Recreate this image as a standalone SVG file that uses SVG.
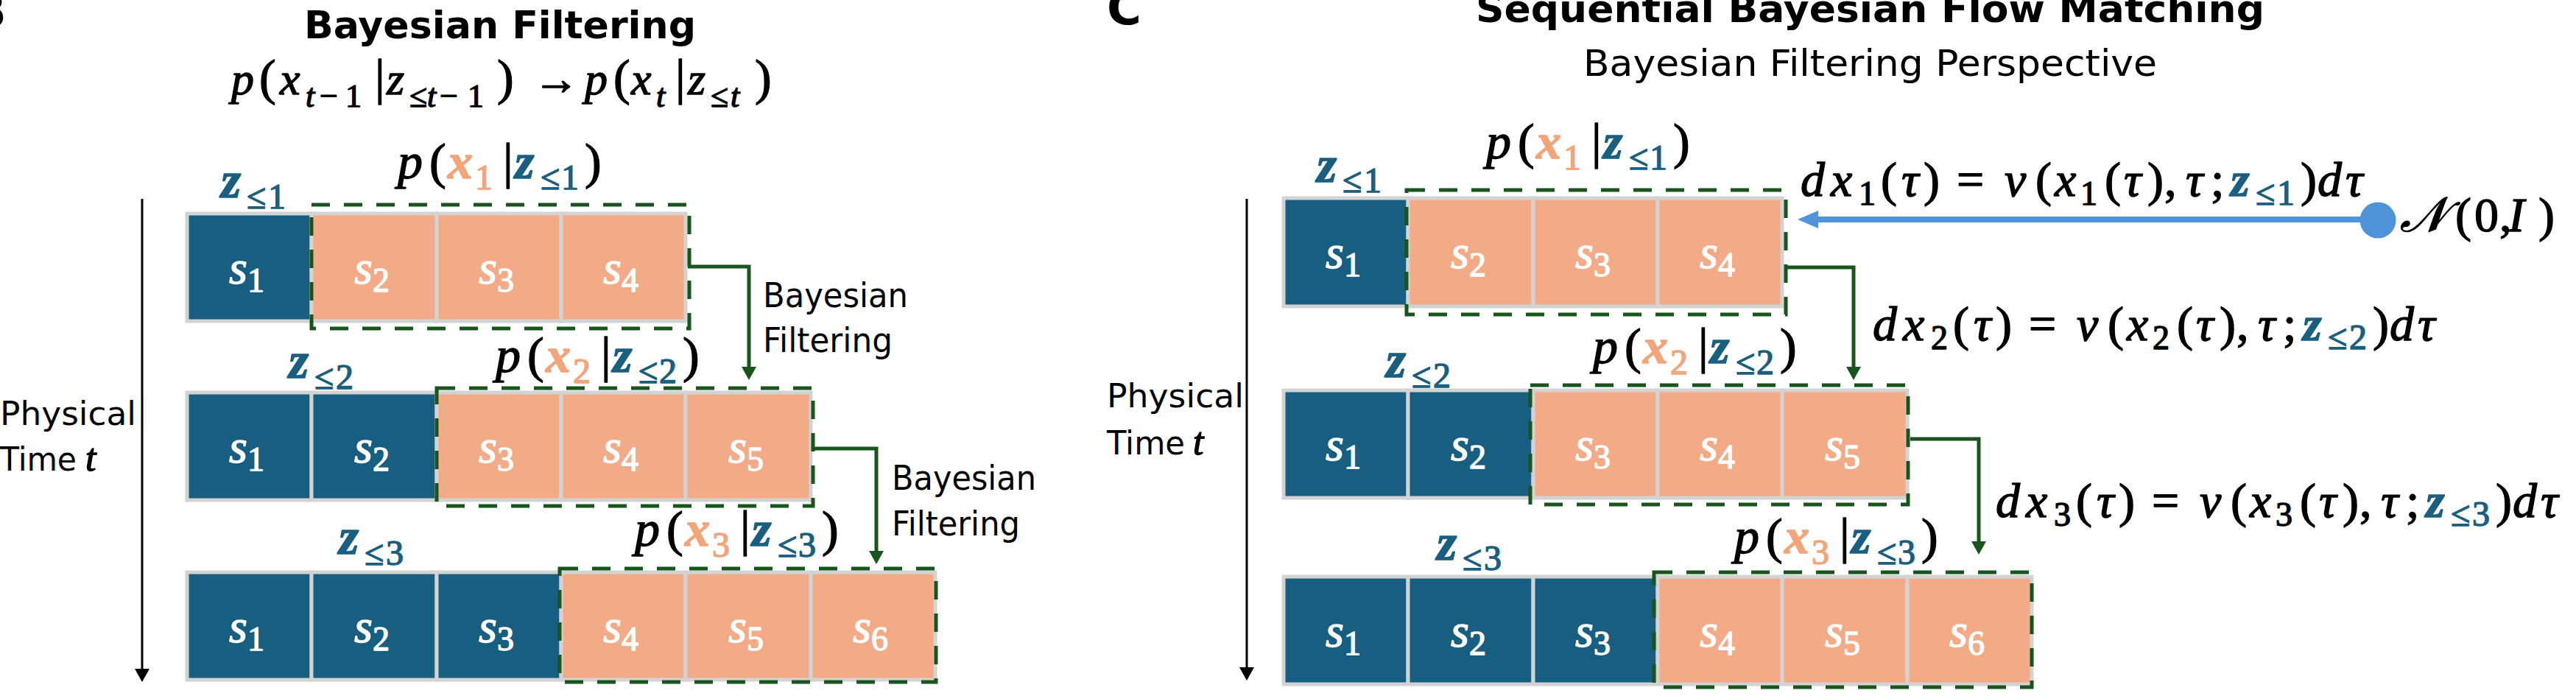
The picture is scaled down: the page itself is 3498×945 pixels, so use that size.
<svg xmlns="http://www.w3.org/2000/svg" width="3498" height="945" viewBox="0 0 3498 945">
<style>
.cb{fill:#185e80;stroke:#d3d3d3;stroke-width:5}
.co{fill:#f2ab86;stroke:#d3d3d3;stroke-width:5}
.win{fill:none;stroke:#18541c;stroke-width:5;stroke-dasharray:25 19}
.conn{fill:none;stroke:#18541c;stroke-width:5}
.m{font-family:"Liberation Serif","Times New Roman","DejaVu Serif",serif;fill:#000;stroke:#000;stroke-width:1.4;stroke-linejoin:round}
.i{font-style:italic}
.cl{fill:#fff;stroke:#fff;font-size:64px}
.sans{font-family:"DejaVu Sans","Liberation Sans",sans-serif;fill:#000}
.xo{fill:#f2a47b;stroke:#f2a47b;font-weight:bold;font-style:italic}
.xs{fill:#f2a47b;stroke:#f2a47b;font-size:48px}
.zb{fill:#1a5f80;stroke:#1a5f80;font-weight:bold;font-style:italic}
.zs{fill:#1a5f80;stroke:#1a5f80;font-size:48px}
.ss{font-size:46px}
</style>
<defs>
<marker id="ahg" markerUnits="userSpaceOnUse" markerWidth="18" markerHeight="20" viewBox="0 0 18 20" refX="0" refY="10" orient="auto"><path d="M0 0L18 10L0 20Z" fill="#18541c"/></marker>
<marker id="ahb" markerUnits="userSpaceOnUse" markerWidth="28" markerHeight="24" viewBox="0 0 28 24" refX="0" refY="12" orient="auto"><path d="M0 0L28 12L0 24Z" fill="#4f93d8"/></marker>
<marker id="ahk" markerUnits="userSpaceOnUse" markerWidth="18" markerHeight="20" viewBox="0 0 18 20" refX="0" refY="10" orient="auto"><path d="M0 0L18 10L0 20Z" fill="#000"/></marker>
</defs>

<!-- Titles -->
<g id="titles">
<text class="sans" x="-40" y="37" font-size="64" font-weight="bold">B</text>
<text class="sans" x="413" y="52" font-size="52" font-weight="bold" textLength="532" lengthAdjust="spacingAndGlyphs">Bayesian Filtering</text>
<text class="sans" x="1503" y="33" font-size="64" font-weight="bold">C</text>
<text class="sans" x="2004" y="30" font-size="52" font-weight="bold" textLength="1071" lengthAdjust="spacingAndGlyphs">Sequential Bayesian Flow Matching</text>
<text class="sans" x="2150" y="103" font-size="50" textLength="779" lengthAdjust="spacingAndGlyphs">Bayesian Filtering Perspective</text>
<text class="m" font-size="62">
<tspan class="i" x="314" y="128">p</tspan><tspan x="352" y="128" font-size="68">(</tspan><tspan class="i" x="380" y="128">x</tspan><tspan class="i" x="415" y="145" font-size="44">t</tspan><tspan x="434" y="145" font-size="44">−</tspan><tspan x="469" y="145" font-size="44">1</tspan><tspan x="509" y="128" font-size="68">|</tspan><tspan class="i" x="525" y="128">z</tspan><tspan x="556" y="145" font-size="44">≤</tspan><tspan class="i" x="580" y="145" font-size="44">t</tspan><tspan x="597" y="145" font-size="44">−</tspan><tspan x="635" y="145" font-size="44">1</tspan><tspan x="675" y="128" font-size="68">)</tspan><tspan x="724" y="128">→</tspan><tspan class="i" x="794" y="128">p</tspan><tspan x="833" y="128" font-size="68">(</tspan><tspan class="i" x="857" y="128">x</tspan><tspan class="i" x="891" y="145" font-size="44">t</tspan><tspan x="917" y="128" font-size="68">|</tspan><tspan class="i" x="934" y="128">z</tspan><tspan x="965" y="145" font-size="44">≤</tspan><tspan class="i" x="992" y="145" font-size="44">t</tspan><tspan x="1025" y="128" font-size="68">)</tspan>
</text>
</g>

<!-- LEFT PANEL cells -->
<g id="L-row1">
<g id="L1-s1"><rect class="cb" x="254" y="290" width="169" height="146"/><text class="m cl" x="335" y="385" text-anchor="middle"><tspan class="i">s</tspan><tspan class="ss" dy="11">1</tspan></text></g>
<g id="L1-s2"><rect class="co" x="423" y="290" width="170" height="146"/><text class="m cl" x="505" y="385" text-anchor="middle"><tspan class="i">s</tspan><tspan class="ss" dy="11">2</tspan></text></g>
<g id="L1-s3"><rect class="co" x="593" y="290" width="169" height="146"/><text class="m cl" x="674" y="385" text-anchor="middle"><tspan class="i">s</tspan><tspan class="ss" dy="11">3</tspan></text></g>
<g id="L1-s4"><rect class="co" x="762" y="290" width="169" height="146"/><text class="m cl" x="843" y="385" text-anchor="middle"><tspan class="i">s</tspan><tspan class="ss" dy="11">4</tspan></text></g>
</g>
<g id="L-row2">
<g id="L2-s1"><rect class="cb" x="254" y="533" width="169" height="146"/><text class="m cl" x="335" y="628" text-anchor="middle"><tspan class="i">s</tspan><tspan class="ss" dy="11">1</tspan></text></g>
<g id="L2-s2"><rect class="cb" x="423" y="533" width="170" height="146"/><text class="m cl" x="505" y="628" text-anchor="middle"><tspan class="i">s</tspan><tspan class="ss" dy="11">2</tspan></text></g>
<g id="L2-s3"><rect class="co" x="593" y="533" width="169" height="146"/><text class="m cl" x="674" y="628" text-anchor="middle"><tspan class="i">s</tspan><tspan class="ss" dy="11">3</tspan></text></g>
<g id="L2-s4"><rect class="co" x="762" y="533" width="169" height="146"/><text class="m cl" x="843" y="628" text-anchor="middle"><tspan class="i">s</tspan><tspan class="ss" dy="11">4</tspan></text></g>
<g id="L2-s5"><rect class="co" x="931" y="533" width="170" height="146"/><text class="m cl" x="1013" y="628" text-anchor="middle"><tspan class="i">s</tspan><tspan class="ss" dy="11">5</tspan></text></g>
</g>
<g id="L-row3">
<g id="L3-s1"><rect class="cb" x="254" y="777" width="169" height="146"/><text class="m cl" x="335" y="872" text-anchor="middle"><tspan class="i">s</tspan><tspan class="ss" dy="11">1</tspan></text></g>
<g id="L3-s2"><rect class="cb" x="423" y="777" width="170" height="146"/><text class="m cl" x="505" y="872" text-anchor="middle"><tspan class="i">s</tspan><tspan class="ss" dy="11">2</tspan></text></g>
<g id="L3-s3"><rect class="cb" x="593" y="777" width="169" height="146"/><text class="m cl" x="674" y="872" text-anchor="middle"><tspan class="i">s</tspan><tspan class="ss" dy="11">3</tspan></text></g>
<g id="L3-s4"><rect class="co" x="762" y="777" width="169" height="146"/><text class="m cl" x="843" y="872" text-anchor="middle"><tspan class="i">s</tspan><tspan class="ss" dy="11">4</tspan></text></g>
<g id="L3-s5"><rect class="co" x="931" y="777" width="170" height="146"/><text class="m cl" x="1013" y="872" text-anchor="middle"><tspan class="i">s</tspan><tspan class="ss" dy="11">5</tspan></text></g>
<g id="L3-s6"><rect class="co" x="1101" y="777" width="169" height="146"/><text class="m cl" x="1182" y="872" text-anchor="middle"><tspan class="i">s</tspan><tspan class="ss" dy="11">6</tspan></text></g>
</g>

<!-- RIGHT PANEL cells -->
<g id="R-row1">
<g id="R1-s1"><rect class="cb" x="1743" y="269" width="169" height="147"/><text class="m cl" x="1824" y="364" text-anchor="middle"><tspan class="i">s</tspan><tspan class="ss" dy="11">1</tspan></text></g>
<g id="R1-s2"><rect class="co" x="1912" y="269" width="170" height="147"/><text class="m cl" x="1994" y="364" text-anchor="middle"><tspan class="i">s</tspan><tspan class="ss" dy="11">2</tspan></text></g>
<g id="R1-s3"><rect class="co" x="2082" y="269" width="169" height="147"/><text class="m cl" x="2163" y="364" text-anchor="middle"><tspan class="i">s</tspan><tspan class="ss" dy="11">3</tspan></text></g>
<g id="R1-s4"><rect class="co" x="2251" y="269" width="169" height="147"/><text class="m cl" x="2332" y="364" text-anchor="middle"><tspan class="i">s</tspan><tspan class="ss" dy="11">4</tspan></text></g>
</g>
<g id="R-row2">
<g id="R2-s1"><rect class="cb" x="1743" y="530" width="169" height="146"/><text class="m cl" x="1824" y="625" text-anchor="middle"><tspan class="i">s</tspan><tspan class="ss" dy="11">1</tspan></text></g>
<g id="R2-s2"><rect class="cb" x="1912" y="530" width="170" height="146"/><text class="m cl" x="1994" y="625" text-anchor="middle"><tspan class="i">s</tspan><tspan class="ss" dy="11">2</tspan></text></g>
<g id="R2-s3"><rect class="co" x="2082" y="530" width="169" height="146"/><text class="m cl" x="2163" y="625" text-anchor="middle"><tspan class="i">s</tspan><tspan class="ss" dy="11">3</tspan></text></g>
<g id="R2-s4"><rect class="co" x="2251" y="530" width="169" height="146"/><text class="m cl" x="2332" y="625" text-anchor="middle"><tspan class="i">s</tspan><tspan class="ss" dy="11">4</tspan></text></g>
<g id="R2-s5"><rect class="co" x="2420" y="530" width="170" height="146"/><text class="m cl" x="2502" y="625" text-anchor="middle"><tspan class="i">s</tspan><tspan class="ss" dy="11">5</tspan></text></g>
</g>
<g id="R-row3">
<g id="R3-s1"><rect class="cb" x="1743" y="783" width="169" height="146"/><text class="m cl" x="1824" y="878" text-anchor="middle"><tspan class="i">s</tspan><tspan class="ss" dy="11">1</tspan></text></g>
<g id="R3-s2"><rect class="cb" x="1912" y="783" width="170" height="146"/><text class="m cl" x="1994" y="878" text-anchor="middle"><tspan class="i">s</tspan><tspan class="ss" dy="11">2</tspan></text></g>
<g id="R3-s3"><rect class="cb" x="2082" y="783" width="169" height="146"/><text class="m cl" x="2163" y="878" text-anchor="middle"><tspan class="i">s</tspan><tspan class="ss" dy="11">3</tspan></text></g>
<g id="R3-s4"><rect class="co" x="2251" y="783" width="169" height="146"/><text class="m cl" x="2332" y="878" text-anchor="middle"><tspan class="i">s</tspan><tspan class="ss" dy="11">4</tspan></text></g>
<g id="R3-s5"><rect class="co" x="2420" y="783" width="170" height="146"/><text class="m cl" x="2502" y="878" text-anchor="middle"><tspan class="i">s</tspan><tspan class="ss" dy="11">5</tspan></text></g>
<g id="R3-s6"><rect class="co" x="2590" y="783" width="169" height="146"/><text class="m cl" x="2671" y="878" text-anchor="middle"><tspan class="i">s</tspan><tspan class="ss" dy="11">6</tspan></text></g>
</g>

<!-- Dashed windows -->
<g id="windows">
<rect id="L-win1" class="win" x="423" y="278" width="513" height="168"/>
<rect id="L-win2" class="win" x="593" y="527" width="511" height="160"/>
<rect id="L-win3" class="win" x="760" y="772" width="511" height="154"/>
<rect id="R-win1" class="win" x="1910" y="258" width="515" height="169"/>
<rect id="R-win2" class="win" x="2078" y="523" width="513" height="162"/>
<rect id="R-win3" class="win" x="2246" y="777" width="513" height="156"/>
</g>

<!-- Connectors -->
<g id="connectors">
<path class="conn" d="M934 362H1017V498" marker-end="url(#ahg)"/>
<path class="conn" d="M1102 609H1190V748" marker-end="url(#ahg)"/>
<path class="conn" d="M2423 363H2517V498" marker-end="url(#ahg)"/>
<path class="conn" d="M2594 596H2687V735" marker-end="url(#ahg)"/>
<path d="M3229 298H2469" fill="none" stroke="#4f93d8" stroke-width="8" marker-end="url(#ahb)"/>
<circle cx="3229" cy="299" r="24.5" fill="#4f93d8"/>
<path d="M193 270V908" fill="none" stroke="#000" stroke-width="3" marker-end="url(#ahk)"/>
<path d="M1693 270V906" fill="none" stroke="#000" stroke-width="3" marker-end="url(#ahk)"/>
</g>

<!-- Axis labels -->
<g id="axis-labels">
<text class="sans" x="0" y="577" font-size="44" textLength="185" lengthAdjust="spacingAndGlyphs">Physical</text>
<text class="sans" x="0" y="639" font-size="44" textLength="104" lengthAdjust="spacingAndGlyphs">Time</text>
<text class="m i" x="116" y="639" font-size="52" stroke-width="0.8">t</text>
<text class="sans" x="1503" y="553" font-size="44" textLength="186" lengthAdjust="spacingAndGlyphs">Physical</text>
<text class="sans" x="1503" y="617" font-size="44" textLength="106" lengthAdjust="spacingAndGlyphs">Time</text>
<text class="m i" x="1620" y="617" font-size="52" stroke-width="0.8">t</text>
</g>

<!-- Connector labels -->
<g id="bf-labels">
<text class="sans" x="1036" y="417" font-size="46" textLength="197" lengthAdjust="spacingAndGlyphs">Bayesian</text>
<text class="sans" x="1036" y="478" font-size="46" textLength="176" lengthAdjust="spacingAndGlyphs">Filtering</text>
<text class="sans" x="1211" y="665" font-size="46" textLength="196" lengthAdjust="spacingAndGlyphs">Bayesian</text>
<text class="sans" x="1211" y="727" font-size="46" textLength="174" lengthAdjust="spacingAndGlyphs">Filtering</text>
</g>

<!-- z labels -->
<g id="z-labels">
<text class="m" font-size="70"><tspan class="zb" x="300" y="268">z</tspan><tspan class="zs" x="335" y="283">≤</tspan><tspan class="zs" x="364" y="283">1</tspan></text>
<text class="m" font-size="70"><tspan class="zb" x="392" y="513">z</tspan><tspan class="zs" x="427" y="528">≤</tspan><tspan class="zs" x="456" y="528">2</tspan></text>
<text class="m" font-size="70"><tspan class="zb" x="460" y="752">z</tspan><tspan class="zs" x="495" y="767">≤</tspan><tspan class="zs" x="524" y="767">3</tspan></text>
<text class="m" font-size="70"><tspan class="zb" x="1788" y="247">z</tspan><tspan class="zs" x="1823" y="261">≤</tspan><tspan class="zs" x="1852" y="261">1</tspan></text>
<text class="m" font-size="70"><tspan class="zb" x="1882" y="512">z</tspan><tspan class="zs" x="1917" y="526">≤</tspan><tspan class="zs" x="1946" y="526">2</tspan></text>
<text class="m" font-size="70"><tspan class="zb" x="1951" y="760">z</tspan><tspan class="zs" x="1986" y="774">≤</tspan><tspan class="zs" x="2015" y="774">3</tspan></text>
</g>

<!-- p labels -->
<g id="p-labels">
<text class="m" font-size="68"><tspan class="i" x="540" y="242">p</tspan><tspan x="583" y="242">(</tspan><tspan class="xo" x="608" y="242">x</tspan><tspan class="xs" x="645" y="257">1</tspan><tspan x="683" y="242">|</tspan><tspan class="zb" x="699" y="242">z</tspan><tspan class="zs" x="734" y="257">≤</tspan><tspan class="zs" x="762" y="257">1</tspan><tspan x="794" y="242">)</tspan></text>
<text class="m" font-size="68"><tspan class="i" x="673" y="505">p</tspan><tspan x="716" y="505">(</tspan><tspan class="xo" x="741" y="505">x</tspan><tspan class="xs" x="778" y="520">2</tspan><tspan x="816" y="505">|</tspan><tspan class="zb" x="832" y="505">z</tspan><tspan class="zs" x="867" y="520">≤</tspan><tspan class="zs" x="895" y="520">2</tspan><tspan x="927" y="505">)</tspan></text>
<text class="m" font-size="68"><tspan class="i" x="862" y="741">p</tspan><tspan x="905" y="741">(</tspan><tspan class="xo" x="930" y="741">x</tspan><tspan class="xs" x="967" y="756">3</tspan><tspan x="1005" y="741">|</tspan><tspan class="zb" x="1021" y="741">z</tspan><tspan class="zs" x="1056" y="756">≤</tspan><tspan class="zs" x="1084" y="756">3</tspan><tspan x="1116" y="741">)</tspan></text>
<text class="m" font-size="68"><tspan class="i" x="2018" y="215">p</tspan><tspan x="2061" y="215">(</tspan><tspan class="xo" x="2086" y="215">x</tspan><tspan class="xs" x="2123" y="230">1</tspan><tspan x="2161" y="215">|</tspan><tspan class="zb" x="2177" y="215">z</tspan><tspan class="zs" x="2212" y="230">≤</tspan><tspan class="zs" x="2240" y="230">1</tspan><tspan x="2272" y="215">)</tspan></text>
<text class="m" font-size="68"><tspan class="i" x="2163" y="493">p</tspan><tspan x="2206" y="493">(</tspan><tspan class="xo" x="2231" y="493">x</tspan><tspan class="xs" x="2268" y="508">2</tspan><tspan x="2306" y="493">|</tspan><tspan class="zb" x="2322" y="493">z</tspan><tspan class="zs" x="2357" y="508">≤</tspan><tspan class="zs" x="2385" y="508">2</tspan><tspan x="2417" y="493">)</tspan></text>
<text class="m" font-size="68"><tspan class="i" x="2355" y="751">p</tspan><tspan x="2398" y="751">(</tspan><tspan class="xo" x="2423" y="751">x</tspan><tspan class="xs" x="2460" y="766">3</tspan><tspan x="2498" y="751">|</tspan><tspan class="zb" x="2514" y="751">z</tspan><tspan class="zs" x="2549" y="766">≤</tspan><tspan class="zs" x="2577" y="766">3</tspan><tspan x="2609" y="751">)</tspan></text>
</g>

<!-- Flow equations -->
<g id="flow-eqs">
<text class="m" font-size="66"><tspan class="i" x="2445" y="266">d</tspan><tspan class="i" x="2486" y="266">x</tspan><tspan x="2524" y="278" font-size="46">1</tspan><tspan x="2554" y="266">(</tspan><tspan class="i" x="2582" y="266">τ</tspan><tspan x="2612" y="266">)</tspan><tspan x="2657" y="266">=</tspan><tspan class="i" x="2722" y="266">v</tspan><tspan x="2764" y="266">(</tspan><tspan class="i" x="2790" y="266">x</tspan><tspan x="2825" y="278" font-size="46">1</tspan><tspan x="2858" y="266">(</tspan><tspan class="i" x="2884" y="266">τ</tspan><tspan x="2916" y="266">)</tspan><tspan x="2939" y="266">,</tspan><tspan class="i" x="2968" y="266">τ</tspan><tspan x="3002" y="266">;</tspan><tspan class="zb" x="3029" y="266">z</tspan><tspan class="zs" x="3063" y="278" font-size="46">≤</tspan><tspan class="zs" x="3092" y="278" font-size="46">1</tspan><tspan x="3124" y="266">)</tspan><tspan class="i" x="3147" y="266">d</tspan><tspan class="i" x="3185" y="266">τ</tspan></text>
<text class="m" font-size="66"><tspan class="i" x="2543" y="462">d</tspan><tspan class="i" x="2584" y="462">x</tspan><tspan x="2622" y="474" font-size="46">2</tspan><tspan x="2652" y="462">(</tspan><tspan class="i" x="2680" y="462">τ</tspan><tspan x="2710" y="462">)</tspan><tspan x="2755" y="462">=</tspan><tspan class="i" x="2820" y="462">v</tspan><tspan x="2862" y="462">(</tspan><tspan class="i" x="2888" y="462">x</tspan><tspan x="2923" y="474" font-size="46">2</tspan><tspan x="2956" y="462">(</tspan><tspan class="i" x="2982" y="462">τ</tspan><tspan x="3014" y="462">)</tspan><tspan x="3037" y="462">,</tspan><tspan class="i" x="3066" y="462">τ</tspan><tspan x="3100" y="462">;</tspan><tspan class="zb" x="3127" y="462">z</tspan><tspan class="zs" x="3161" y="474" font-size="46">≤</tspan><tspan class="zs" x="3190" y="474" font-size="46">2</tspan><tspan x="3222" y="462">)</tspan><tspan class="i" x="3245" y="462">d</tspan><tspan class="i" x="3283" y="462">τ</tspan></text>
<text class="m" font-size="66"><tspan class="i" x="2710" y="702">d</tspan><tspan class="i" x="2751" y="702">x</tspan><tspan x="2789" y="714" font-size="46">3</tspan><tspan x="2819" y="702">(</tspan><tspan class="i" x="2847" y="702">τ</tspan><tspan x="2877" y="702">)</tspan><tspan x="2922" y="702">=</tspan><tspan class="i" x="2987" y="702">v</tspan><tspan x="3029" y="702">(</tspan><tspan class="i" x="3055" y="702">x</tspan><tspan x="3090" y="714" font-size="46">3</tspan><tspan x="3123" y="702">(</tspan><tspan class="i" x="3149" y="702">τ</tspan><tspan x="3181" y="702">)</tspan><tspan x="3204" y="702">,</tspan><tspan class="i" x="3233" y="702">τ</tspan><tspan x="3267" y="702">;</tspan><tspan class="zb" x="3294" y="702">z</tspan><tspan class="zs" x="3328" y="714" font-size="46">≤</tspan><tspan class="zs" x="3357" y="714" font-size="46">3</tspan><tspan x="3389" y="702">)</tspan><tspan class="i" x="3412" y="702">d</tspan><tspan class="i" x="3450" y="702">τ</tspan></text>
<text class="m" font-size="66"><tspan class="i" x="3259" y="314" font-family="'DejaVu Serif','DejaVu Sans','Noto Sans',serif">𝒩</tspan><tspan x="3334" y="314">(</tspan><tspan x="3360" y="314">0</tspan><tspan x="3394" y="314">,</tspan><tspan class="i" x="3406" y="314">I</tspan><tspan x="3447" y="314">)</tspan></text>
</g>
</svg>
